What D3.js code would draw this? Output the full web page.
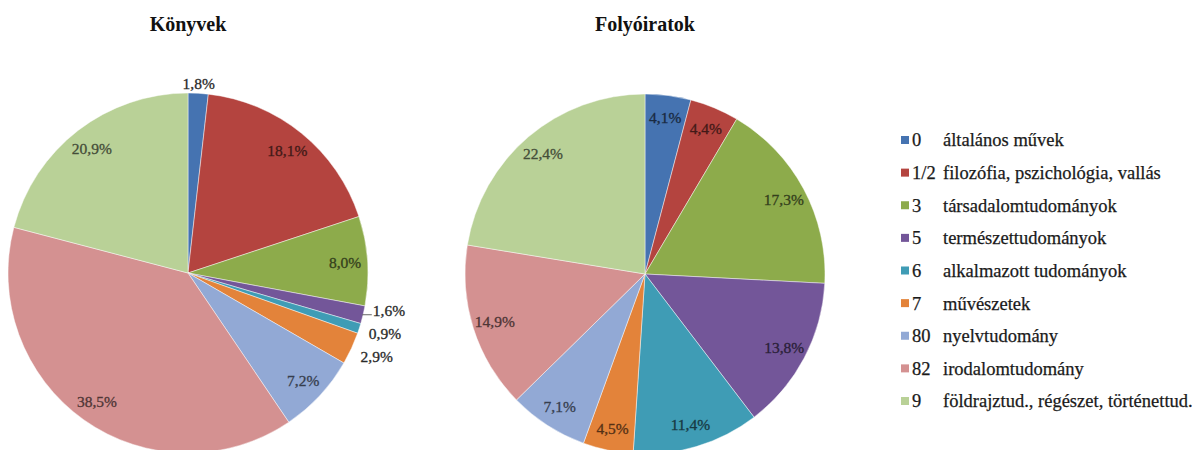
<!DOCTYPE html>
<html>
<head>
<meta charset="utf-8">
<script src="https://cdn.jsdelivr.net/npm/d3@7"></script>
<style>
  body { margin: 0; background: #fff; }
</style>
</head>
<body>
<div id="chart"></div>
<script>
// kategóriák (ETO szakok)
var codes = ["0", "1/2", "3", "5", "6", "7", "80", "82", "9"];
var labels = ["általános művek", "filozófia, pszichológia, vallás", "társadalomtudományok",
	"természettudományok", "alkalmazott tudományok", "művészetek", "nyelvtudomány",
	"irodalomtudomány", "földrajztud., régészet, történettud."];
var colors = ["#4573b1", "#b4443f", "#8dab4b", "#735699", "#3f9cb5", "#e3833a", "#92a9d5", "#d49191", "#b9d197"];

// értékek (%)
var konyvek = [1.8, 18.1, 8.0, 1.6, 0.9, 2.9, 7.2, 38.5, 20.9];
var folyoiratok = [4.1, 4.4, 17.3, 13.8, 11.4, 4.5, 7.1, 14.9, 22.4];
var titles = ["Könyvek", "Folyóiratok"];

var width = 1201, height = 450, radius = 180;
var serif = "'Liberation Serif', 'Times New Roman', Tinos, serif";

var svg = d3.select("#chart").append("svg")
	.attr("width", width)
	.attr("height", height);

var fmt = function (v) { return d3.format(".1f")(v).replace(".", ",") + "%"; };

var pie = d3.pie().sort(null).value(function (d) { return d; });
var arc = d3.arc().innerRadius(0).outerRadius(radius);

function drawPie(values, title, cx, cy) {
	var g = svg.append("g").attr("transform", "translate(" + cx + "," + cy + ")");

	svg.append("text")
		.attr("x", cx)
		.attr("y", 31)
		.attr("text-anchor", "middle")
		.attr("font-family", serif)
		.attr("font-size", 20)
		.attr("font-weight", "bold")
		.attr("fill", "#111")
		.text(title);

	var arcs = pie(values);

	g.selectAll("path")
		.data(arcs)
		.enter()
		.append("path")
		.attr("d", arc)
		.style("fill", function (d, i) { return colors[i]; })
		.style("stroke", "rgba(255,255,255,0.45)")
		.style("stroke-width", 1);

	// címkék helye
	var lab = arcs.map(function (d, i) {
		var a = (d.startAngle + d.endAngle) / 2;
		var inside = d.value >= 3;
		var r = inside ? radius * 0.875 : radius + 10;
		return { i: i, d: d, s: Math.sin(a), inside: inside, x: r * Math.sin(a), y: -r * Math.cos(a) };
	});

	// kívül lévő címkék szétválasztása függőlegesen
	var out = lab.filter(function (l) { return !l.inside && Math.abs(l.s) > 0.3; });
	for (var k = 0; k < 30; k++) {
		for (var j = 1; j < out.length; j++) {
			var gap = out[j].y - out[j - 1].y;
			if (gap < 23) {
				var m = (23 - gap) / 2;
				out[j - 1].y -= m;
				out[j].y += m;
			}
		}
	}

	lab.forEach(function (l) {
		var anchor = "middle";
		if (!l.inside && Math.abs(l.s) > 0.3) anchor = l.s > 0 ? "start" : "end";
		var col = l.inside ? d3.color(colors[l.i]).darker(2.8) : "#2a2a2a";
		g.append("text")
			.attr("x", l.x)
			.attr("y", l.y)
			.attr("dy", "0.35em")
			.attr("text-anchor", anchor)
			.attr("font-family", serif)
			.attr("font-size", 15.5)
			.attr("fill", col)
			.attr("stroke", col)
			.attr("stroke-width", 0.3)
			.text(fmt(l.d.value));
		// vezetővonal a 1,6%-os címkéhez
		if (!l.inside && l.i == 3) {
			g.append("line")
				.attr("x1", (radius - 1) * l.s)
				.attr("x2", l.x - 1)
				.attr("y1", l.y + 4)
				.attr("y2", l.y + 4)
				.style("stroke", "#666")
				.style("stroke-width", 1);
		}
	});
}

drawPie(konyvek, titles[0], 188, 273);
drawPie(folyoiratok, titles[1], 645, 274);

// jelmagyarázat
var legendY = d3.scalePoint().domain(codes).range([140, 401]);
var legend = svg.append("g")
	.attr("font-family", serif)
	.attr("font-size", 18.5)
	.attr("fill", "#1a1a1a")
	.attr("stroke", "#1a1a1a")
	.attr("stroke-width", 0.25);
codes.forEach(function (code, i) {
	var y = legendY(code);
	legend.append("rect")
		.attr("x", 901)
		.attr("y", y - 4)
		.attr("width", 8)
		.attr("height", 8)
		.style("fill", colors[i])
		.style("stroke", "none");
	legend.append("text")
		.attr("x", 912)
		.attr("y", y)
		.attr("dy", "0.35em")
		.text(code);
	legend.append("text")
		.attr("x", 943)
		.attr("y", y)
		.attr("dy", "0.35em")
		.text(labels[i]);
});
</script>
</body>
</html>
